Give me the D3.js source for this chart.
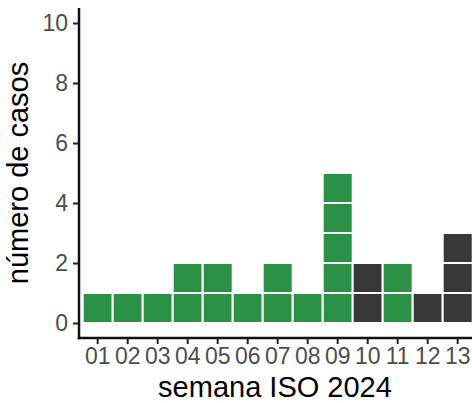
<!DOCTYPE html>
<html><head><meta charset="utf-8">
<script src="https://cdn.jsdelivr.net/npm/d3@7"></script>
<style>body{margin:0;background:#fff}svg{display:block}</style>
</head><body>
<svg id="c" width="472" height="403"></svg>
<script>
const weeks = ["01","02","03","04","05","06","07","08","09","10","11","12","13"];
const greenCases = [1,1,1,2,2,1,2,1,5,0,2,0,0];
const darkCases  = [0,0,0,0,0,0,0,0,0,2,0,1,3];
const yTicks = [0,2,4,6,8,10];
const colors = {green:"#2a9147", dark:"#383838"};

(function(){
const svg = d3.select("#c");
const pL = 79, pR = 472, pT = 8, pB = 338;
const font = "'Liberation Sans', Arial, sans-serif";

const x = d3.scaleBand().domain(weeks).range([82.7, 472.7]).padding(0);
const y = d3.scaleLinear().domain([-0.5, 10.5]).range([pB, pT]);

const tiles = [];
weeks.forEach((w,i)=>{
  let k=0;
  for(let j=0;j<greenCases[i];j++) tiles.push({w, k:k++, c:colors.green});
  for(let j=0;j<darkCases[i];j++) tiles.push({w, k:k++, c:colors.dark});
});
svg.append("g").selectAll("rect").data(tiles).join("rect")
  .attr("x", d=>x(d.w)).attr("width", x.bandwidth())
  .attr("y", d=>y(d.k+1)).attr("height", d=>y(d.k)-y(d.k+1))
  .attr("fill", d=>d.c).attr("stroke","#fff").attr("stroke-width",2);

const ya = svg.append("g").attr("transform",`translate(${pL},0)`)
  .call(d3.axisLeft(y).tickValues(yTicks).tickSize(6).tickPadding(5));
ya.select(".domain").remove();
ya.selectAll(".tick line").attr("stroke","#222").attr("stroke-width",2);
ya.selectAll(".tick text").attr("fill","#4d4d4d").style("font-family",font).style("font-size","23px");
svg.append("line").attr("x1",pL).attr("x2",pL).attr("y1",pT).attr("y2",pB+1.2)
  .attr("stroke","#111").attr("stroke-width",2.5);

const xa = svg.append("g").attr("transform",`translate(0,${pB})`)
  .call(d3.axisBottom(x).tickSize(6).tickPadding(4));
xa.select(".domain").remove();
xa.selectAll(".tick line").attr("stroke","#222").attr("stroke-width",2);
xa.selectAll(".tick text").attr("fill","#4d4d4d").style("font-family",font).style("font-size","23px");
svg.append("line").attr("x1",pL-1.2).attr("x2",pR).attr("y1",pB).attr("y2",pB)
  .attr("stroke","#111").attr("stroke-width",2.5);

svg.append("text").attr("x",275).attr("y",397).attr("text-anchor","middle")
  .style("font-family",font).style("font-size","29px").attr("fill","#000").text("semana ISO 2024");
svg.append("text").attr("transform",`translate(28,${(pT+pB)/2}) rotate(-90)`).attr("text-anchor","middle")
  .style("font-family",font).style("font-size","29px").attr("fill","#000").text("número de casos");
})();
</script>
</body></html>
